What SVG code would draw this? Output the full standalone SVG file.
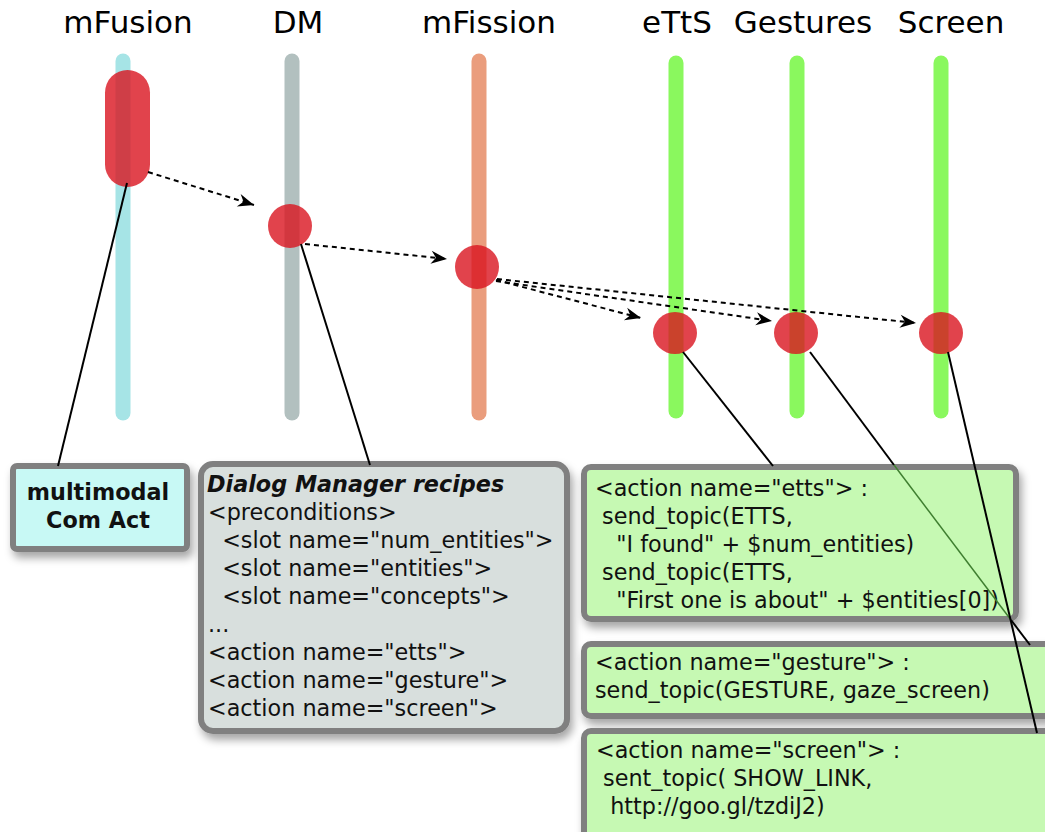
<svg xmlns="http://www.w3.org/2000/svg" width="1045" height="832" viewBox="0 0 1045 832">
  <defs>
    <style>
      .title { font-family: "DejaVu Sans", "Liberation Sans", sans-serif; font-size: 31px; fill: #000; text-anchor: middle; }
      .body { font-family: "DejaVu Sans", "Liberation Sans", sans-serif; font-size: 22.3px; fill: #111; }
      .bold { font-weight: bold; }
      .bar { stroke-width: 15; stroke-linecap: round; }
      .act { fill: #d9141f; fill-opacity: 0.8; }
      .msg { fill: none; stroke: #000; stroke-width: 2; stroke-dasharray: 5 4; marker-end: url(#arrow); }
      .callout { fill: none; stroke: #000; stroke-width: 2; }
      .note { stroke: #808080; stroke-width: 6; filter: url(#shadow); }
    </style>
    <marker id="arrow" markerUnits="userSpaceOnUse" markerWidth="20" markerHeight="16" viewBox="-18 -8 20 16" refX="0" refY="0" orient="auto">
      <path d="M0,0 L-16,-6.5 L-11,0 L-16,6.5 Z" fill="#000"/>
    </marker>
    <filter id="shadow" x="-10%" y="-10%" width="130%" height="140%">
      <feDropShadow dx="3" dy="6" stdDeviation="4" flood-color="#000" flood-opacity="0.35"/>
    </filter>
  </defs>

  <rect width="1045" height="832" fill="#fff"/>

  <!-- lifelines -->
  <g id="mFusion">
    <text class="title" x="128" y="33">mFusion</text>
    <line class="bar" x1="123" y1="61" x2="123" y2="413" stroke="#a6e4e6"/>
    <rect class="act" x="105" y="70" width="45" height="117" rx="22.5"/>
  </g>
  <g id="DM">
    <text class="title" x="298" y="33">DM</text>
    <line class="bar" x1="292" y1="61" x2="292" y2="413" stroke="#b2c0bf"/>
    <circle class="act" cx="290" cy="226" r="22"/>
  </g>
  <g id="mFission">
    <text class="title" x="489" y="33">mFission</text>
    <line class="bar" x1="479" y1="61" x2="479" y2="413" stroke="#ea9d7d"/>
    <ellipse class="act" cx="477" cy="267" rx="22" ry="22"/>
  </g>
  <g id="eTtS">
    <text class="title" x="677" y="33">eTtS</text>
    <line class="bar" x1="676" y1="63" x2="676" y2="411" stroke="#8af85e"/>
    <ellipse class="act" cx="675" cy="333" rx="22" ry="21"/>
  </g>
  <g id="Gestures">
    <text class="title" x="803" y="33">Gestures</text>
    <line class="bar" x1="797" y1="63" x2="797" y2="411" stroke="#8af85e"/>
    <ellipse class="act" cx="796" cy="333" rx="22" ry="21"/>
  </g>
  <g id="Screen">
    <text class="title" x="951" y="33">Screen</text>
    <line class="bar" x1="941" y1="63" x2="941" y2="411" stroke="#8af85e"/>
    <ellipse class="act" cx="941" cy="333" rx="22" ry="21"/>
  </g>

  <!-- notes -->
  <g id="note-comact">
    <rect class="note" x="13" y="466" width="174" height="83" rx="4" fill="#c8f9f5"/>
    <text class="body bold" x="98" y="500" text-anchor="middle" font-size="22.5">multimodal</text>
    <text class="body bold" x="98" y="528" text-anchor="middle" font-size="22.5">Com Act</text>
  </g>
  <g id="note-dm">
    <rect class="note" x="201" y="464" width="366" height="267" rx="12" fill="#d8dfdd"/>
    <text class="body bold" x="207" y="492" font-style="italic">Dialog Manager recipes</text>
    <text class="body" xml:space="preserve"><tspan x="208" y="520">&lt;preconditions&gt;</tspan><tspan x="208" y="548">  &lt;slot name="num_entities"&gt;</tspan><tspan x="208" y="576">  &lt;slot name="entities"&gt;</tspan><tspan x="208" y="604">  &lt;slot name="concepts"&gt;</tspan><tspan x="208" y="632">...</tspan><tspan x="208" y="660">&lt;action name="etts"&gt;</tspan><tspan x="208" y="688">&lt;action name="gesture"&gt;</tspan><tspan x="208" y="716">&lt;action name="screen"&gt;</tspan></text>
  </g>
  <g id="note-etts">
    <rect class="note" x="584" y="467" width="432" height="152" rx="7" fill="#c6f9b3"/>
    <text class="body" xml:space="preserve"><tspan x="595" y="496">&lt;action name="etts"&gt; :</tspan><tspan x="595" y="524"> send_topic(ETTS,</tspan><tspan x="595" y="552">   "I found" + $num_entities)</tspan><tspan x="595" y="580"> send_topic(ETTS,</tspan><tspan x="595" y="608">   "First one is about" + $entities[0])</tspan></text>
  </g>
  <g id="note-gesture">
    <rect class="note" x="584" y="644" width="470" height="72" rx="7" fill="#c6f9b3"/>
    <text class="body" xml:space="preserve"><tspan x="595" y="670">&lt;action name="gesture"&gt; :</tspan><tspan x="595" y="698">send_topic(GESTURE, gaze_screen)</tspan></text>
  </g>
  <g id="note-screen">
    <rect class="note" x="584" y="731" width="470" height="110" rx="7" fill="#c6f9b3"/>
    <text class="body" xml:space="preserve"><tspan x="596" y="758">&lt;action name="screen"&gt; :</tspan><tspan x="596" y="786"> sent_topic( SHOW_LINK,</tspan><tspan x="596" y="814">  http://goo.gl/tzdiJ2)</tspan></text>
  </g>

  <!-- connectors -->
  <g id="connectors">
    <line class="msg" x1="148" y1="172" x2="254" y2="205"/>
    <line class="msg" x1="305" y1="244" x2="447" y2="259"/>
    <line class="msg" x1="496" y1="280" x2="641" y2="318"/>
    <line class="msg" x1="496" y1="281" x2="772" y2="321"/>
    <line class="msg" x1="497" y1="279" x2="916" y2="323"/>

    <line class="callout" x1="127" y1="183" x2="58" y2="466"/>
    <line class="callout" x1="301" y1="244" x2="370" y2="465"/>
    <line class="callout" x1="683" y1="352" x2="773" y2="466"/>
    <!-- gesture callout: dimmed where it runs behind the eTtS note -->
    <line class="callout" x1="810" y1="352" x2="894" y2="465"/>
    <line x1="894" y1="465" x2="1011" y2="620" stroke="#3f7f30" stroke-width="1.5"/>
    <line class="callout" x1="1011" y1="620" x2="1030" y2="645"/>
    <line class="callout" x1="948" y1="352" x2="1037" y2="733"/>
  </g>
</svg>
